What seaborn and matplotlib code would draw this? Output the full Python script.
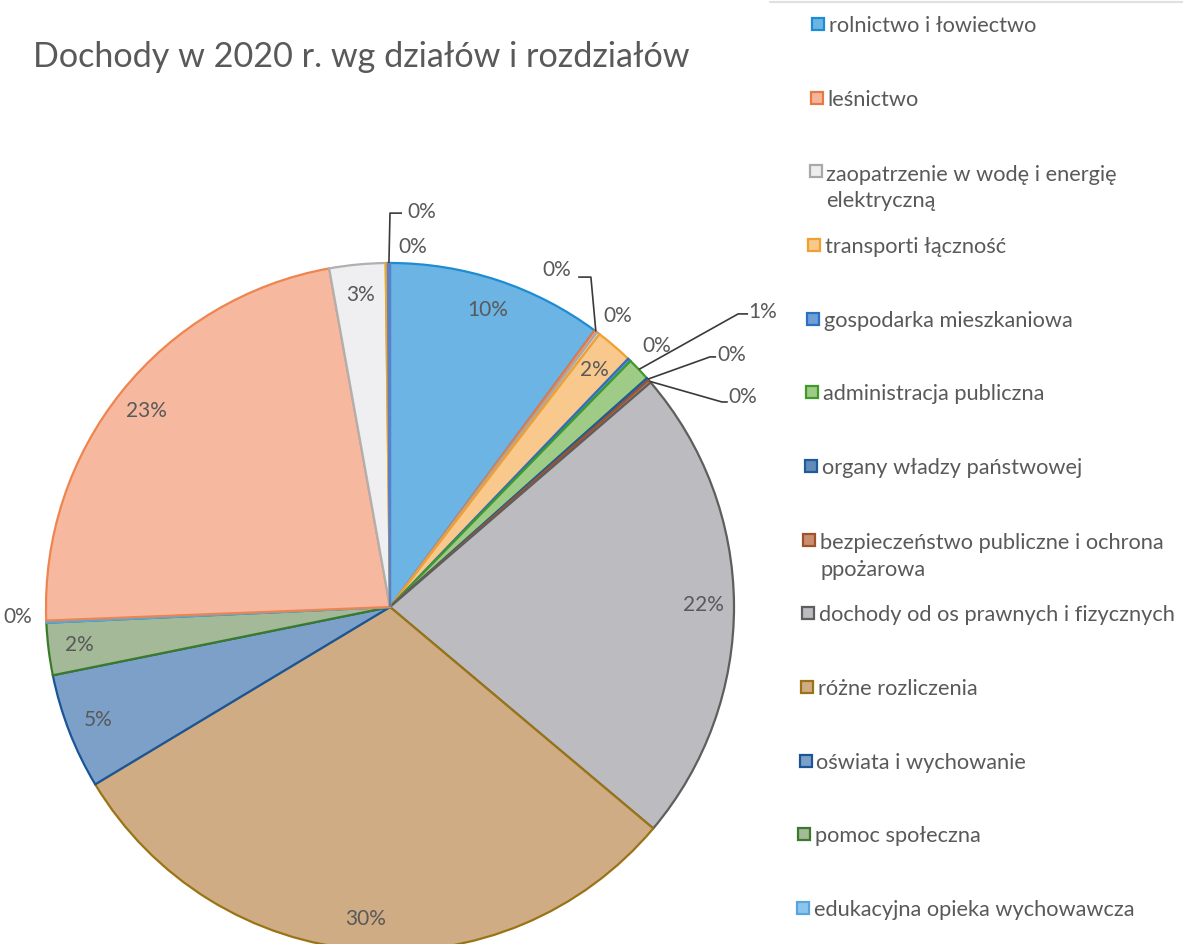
import numpy as np
import matplotlib
matplotlib.use("Agg")
import matplotlib.pyplot as plt
import matplotlib.patches as mpatches
from matplotlib.lines import Line2D
import seaborn as sns

sns.set_theme(style="white")
plt.rcParams['font.family'] = ['Lato', 'DejaVu Sans']

# ---------------- data ----------------
title = "Dochody w 2020 r. wg działów i rozdziałów"
categories = [
    "rolnictwo i łowiectwo",
    "leśnictwo",
    "zaopatrzenie w wodę i energię\nelektryczną",
    "transporti łączność",
    "gospodarka mieszkaniowa",
    "administracja publiczna",
    "organy władzy państwowej",
    "bezpieczeństwo publiczne i ochrona\nppożarowa",
    "dochody od os prawnych i fizycznych",
    "różne rozliczenia",
    "oświata i wychowanie",
    "pomoc społeczna",
    "edukacyjna opieka wychowawcza",
    "dział 14",
    "dział 15",
    "dział 16",
    "dział 17",
]
shares = [10.14, 0.14, 0.14, 1.75, 0.15, 1.10, 0.12, 0.14, 22.45, 30.25,
          5.44, 2.45, 0.10, 22.80, 2.63, 0.10, 0.10]
n_legend = 13  # legend entries visible in the original

# ---------------- style ----------------
fills = ["#6CB4E4", "#F5B49B", "#EDEDEF", "#F8C88C", "#6E9FD6", "#9ECB86",
         "#5F8CBA", "#C98E70", "#BCBCC0", "#CFAC84", "#7DA0C8", "#A3B997",
         "#8CC6EC", "#F6B9A0", "#EFEFF1", "#FAD27C", "#A3BCE2"]
edges = ["#1E8CD2", "#E57A45", "#A8A8A8", "#F0A030", "#2D6FC0", "#3F9A2A",
         "#1F5C99", "#A0522D", "#5E5E5E", "#9A7414", "#1A5599", "#3A7A2A",
         "#5AA5DD", "#EE8550", "#B0B0B0", "#F0AA20", "#5A80C8"]
text_color = "#595959"

W, H = 1183, 944
cx, cy, R = 390, 607, 344  # pie centre/radius in pixels

fig = plt.figure(figsize=(W / 100, H / 100), dpi=100)
fig.patch.set_facecolor("white")
ax = fig.add_axes([(cx - R) / W, (H - cy - R) / H, 2 * R / W, 2 * R / H])

wedges, _ = ax.pie(shares, startangle=90, counterclock=False, radius=1.0,
                   colors=fills, wedgeprops=dict(linewidth=1.6))
for w, ec in zip(wedges, edges):
    w.set_edgecolor(ec)
ax.set_xlim(-1, 1)
ax.set_ylim(-1, 1)
ax.set_aspect("equal")
ax.axis("off")

labels = [f"{round(v):.0f}%" for v in shares]

# label placement: inside at r_in unless listed here as (text_xy, leader points)
r_in = 0.91
special = {
    1: ((0.486, 0.980), [(0.584, 0.959), (0.547, 0.959)]),
    2: ((0.663, 0.846), None),
    4: ((0.776, 0.759), None),
    5: ((1.084, 0.858), [(1.012, 0.852), (1.041, 0.852)]),
    6: ((0.994, 0.733), [(0.930, 0.727), (0.948, 0.727)]),
    7: ((1.026, 0.610), [(0.965, 0.596), (0.982, 0.596)]),
    12: ((-1.081, -0.029), None),
    15: ((0.067, 1.047), None),
    16: ((0.093, 1.148), [(0.0, 1.145), (0.035, 1.145)]),
}
for i, (w, lab) in enumerate(zip(wedges, labels)):
    mid = np.deg2rad((w.theta1 + w.theta2) / 2)
    if i in special:
        (tx, ty), pts = special[i]
        if pts is not None:
            path = [(np.cos(mid), np.sin(mid))] + pts
            xs, ys = zip(*path)
            ax.plot(xs, ys, color="#3A3A3A", lw=1.2, solid_capstyle="butt",
                    clip_on=False)
        ax.text(tx, ty, lab, ha="center", va="center", fontsize=15,
                color=text_color, clip_on=False)
    else:
        ax.text(r_in * np.cos(mid), r_in * np.sin(mid), lab, ha="center",
                va="center", fontsize=15, color=text_color)

# title
fig.text(33 / W, 1 - 57 / H, title, ha="left", va="center", fontsize=24.6,
         color=text_color)

# legend (evenly distributed like the original, slight scan skew)
leg_y = np.linspace(24, 908, n_legend)
line_h = 28
for i in range(n_legend):
    y = leg_y[i]
    x = 812 - 15 * (y - 24) / 884
    sq = 12
    fig.add_artist(mpatches.Rectangle((x / W, 1 - (y + sq / 2) / H),
                                      sq / W, sq / H, transform=fig.transFigure,
                                      facecolor=fills[i], edgecolor=edges[i],
                                      linewidth=1.6))
    n_lines = categories[i].count("\n") + 1
    fig.text((x + sq + 5) / W, 1 - (y + 8 + (n_lines - 1) * line_h) / H,
             categories[i], ha="left", va="baseline", fontsize=15.7,
             color=text_color, linespacing=1.42)

# faint frame edge at top right (scan)
fig.add_artist(Line2D([770 / W, 1.0], [1 - 2 / H, 1 - 2 / H],
                      transform=fig.transFigure, color="#E0E0E0", lw=1.5))

fig.savefig("out.png", dpi=100, facecolor="white")
